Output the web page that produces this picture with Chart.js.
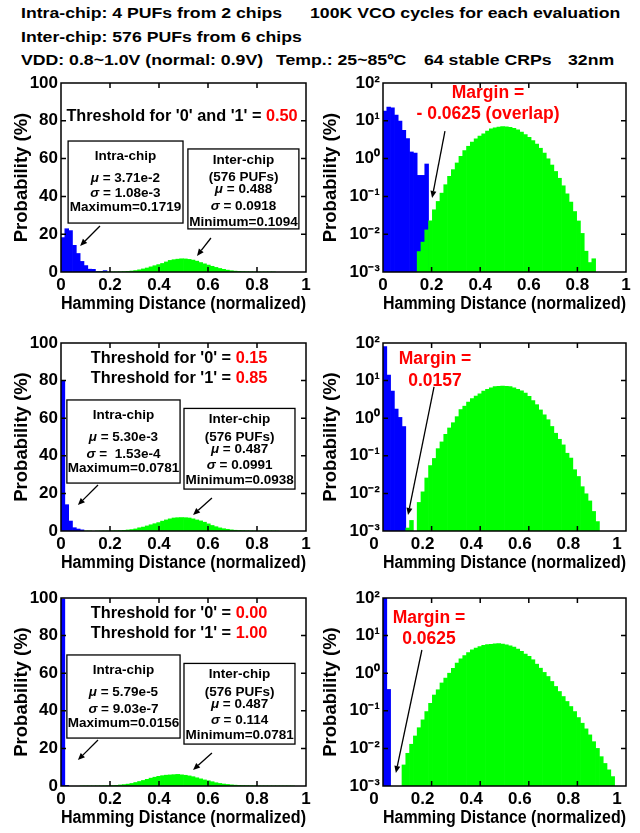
<!DOCTYPE html>
<html><head><meta charset="utf-8">
<script src="https://cdn.jsdelivr.net/npm/chart.js@4.4.0/dist/chart.umd.min.js"></script>
<style>
html,body{margin:0;padding:0;background:#fff;}
body{width:640px;height:833px;position:relative;overflow:hidden;font-family:"Liberation Sans",Arial,Helvetica,sans-serif;}
.h{position:absolute;font-weight:bold;font-size:15.5px;line-height:15.5px;white-space:nowrap;transform:scaleX(1.14);transform-origin:0 0;color:#000;}
canvas{position:absolute;}
</style></head><body>
<div class="h" style="left:21px;top:5px">Intra-chip: 4 PUFs from 2 chips</div>
<div class="h" style="left:310px;top:5px">100K VCO cycles for each evaluation</div>
<div class="h" style="left:21px;top:28.5px">Inter-chip: 576 PUFs from 6 chips</div>
<div class="h" style="left:21px;top:52px">VDD: 0.8~1.0V (normal: 0.9V)</div>
<div class="h" style="left:276px;top:52px">Temp.: 25~85ºC</div>
<div class="h" style="left:424px;top:52px">64 stable CRPs</div>
<div class="h" style="left:568px;top:52px">32nm</div>

<canvas id="c1" width="316" height="246" style="left:0px;top:69px"></canvas>
<canvas id="c2" width="320" height="246" style="left:320px;top:69px"></canvas>
<canvas id="c3" width="316" height="245" style="left:0px;top:329px"></canvas>
<canvas id="c4" width="320" height="245" style="left:320px;top:329px"></canvas>
<canvas id="c5" width="316" height="245" style="left:0px;top:584px"></canvas>
<canvas id="c6" width="320" height="245" style="left:320px;top:584px"></canvas>

<script>
// ---------------- data ----------------
const BINS = 64;                       // 64 CRPs -> HD resolution 1/64
const xTickValues = [0, 0.2, 0.4, 0.6, 0.8, 1];
const yTicksLinear = [0, 20, 40, 60, 80, 100];
const yTicksLog = [0.001, 0.01, 0.1, 1, 10, 100];

// Threshold 0.50 (probability in %, first bin index given by *Start)
const intra050Start = 0;
const intra050 = [18.2, 22.9, 21.9, 14.1, 9.8, 5.6, 3.4, 1.5, 1.4, 0.36, 0.36, 0.72];
const inter050Start = 9;
const inter050 = [0.00347, 0.00617, 0.0130, 0.0226, 0.0443, 0.0736, 0.122, 0.204, 0.340, 0.511,
  0.767, 1.15, 1.63, 2.12, 2.72, 3.33, 3.92, 4.52, 5.32, 6.14, 6.52, 6.79, 7.00, 6.92, 6.68,
  6.31, 5.75, 5.01, 4.32, 3.67, 3.02, 2.43, 1.88, 1.40, 0.989, 0.676, 0.457, 0.302, 0.191,
  0.117, 0.0708, 0.0398, 0.0224, 0.0105, 0.00355, 0.00178, 0.00224];

// Threshold 0.15 / 0.85
const intra015Start = 0;
const intra015 = [80, 14, 5.3, 1.75, 1.05, 0.6];
const inter015Start = 6;
const inter015 = [0.00120, 0.00191, null, 0.00575, 0.0110, 0.0257, 0.0550, 0.0851, 0.155, 0.234,
  0.372, 0.550, 0.759, 1.10, 1.70, 2.09, 2.69, 3.31, 3.89, 4.47, 5.25, 5.89, 6.46, 6.92, 7.08,
  7.16, 7.08, 6.92, 6.46, 5.89, 5.37, 4.68, 3.80, 2.95, 2.29, 1.66, 1.23, 0.912, 0.603, 0.398,
  0.275, 0.195, 0.117, 0.0871, 0.0427, 0.0282, 0.0151, 0.00977, 0.00631, 0.00331, 0.00178];

// Threshold 0.00 / 1.00
const intra000Start = 0;
const intra000 = [99.6, 0.37];
const inter000Start = 5;
const inter000 = [0.00363, 0.00741, 0.0129, 0.0214, 0.0355, 0.0575, 0.0955, 0.158, 0.263, 0.363,
  0.550, 0.741, 1.00, 1.35, 1.86, 2.40, 2.95, 3.55, 4.17, 4.68, 5.13, 5.50, 5.75, 5.89, 6.03,
  6.17, 5.94, 5.71, 5.37, 4.95, 4.37, 3.80, 3.24, 2.79, 2.28, 1.74, 1.36, 1.05, 0.818, 0.603,
  0.444, 0.326, 0.240, 0.177, 0.130, 0.0955, 0.0661, 0.0468, 0.0331, 0.0229, 0.0151, 0.0100,
  0.00603, 0.00398, 0.00269, 0.00178];

// ---------------- rendering ----------------
const FONT = '"Liberation Sans", Arial, Helvetica, sans-serif';
const RED = '#ff0000', BLUE = '#0000ff', GREEN = '#00ff00';
Chart.defaults.font.family = FONT;
Chart.defaults.color = '#000';

function bars(start, values) {
  const pts = [];
  values.forEach((v, i) => { if (v !== null) pts.push({x: (start + i + 0.5) / BINS, y: v}); });
  return pts;
}
const supMap = {'-': '\u207B', '0': '\u2070', '1': '\u00B9', '2': '\u00B2', '3': '\u00B3'};
function logLabel(v) {
  const e = Math.round(Math.log10(v));
  return '10' + String(e).split('').map(c => supMap[c]).join('');
}

function drawRich(ctx, segs, cx, cy, size) {
  let total = 0;
  const parts = segs.map(s => {
    const font = (s.i ? 'italic ' : '') + 'bold ' + size + 'px ' + FONT;
    ctx.font = font;
    const w = ctx.measureText(s.t).width;
    total += w;
    return {s, font, w};
  });
  let xx = cx - total / 2;
  ctx.textBaseline = 'middle';
  ctx.textAlign = 'left';
  parts.forEach(p => { ctx.font = p.font; ctx.fillStyle = p.s.c || '#000'; ctx.fillText(p.s.t, xx, cy); xx += p.w; });
}

function framePlugin(ann) {
  return {
    id: 'frame',
    afterDraw(chart) {
      const {ctx, chartArea: a, scales: {x, y}} = chart;
      ctx.save();
      ctx.strokeStyle = '#000';
      ctx.lineWidth = 1.5;
      const tl = 5;
      ctx.beginPath();
      x.ticks.forEach(t => {
        const px = x.getPixelForValue(t.value);
        if (px <= a.left + 1 || px >= a.right - 1) return;
        ctx.moveTo(px, a.bottom); ctx.lineTo(px, a.bottom - tl);
        ctx.moveTo(px, a.top); ctx.lineTo(px, a.top + tl);
      });
      y.ticks.forEach(t => {
        const py = y.getPixelForValue(t.value);
        if (py <= a.top + 1 || py >= a.bottom - 1) return;
        ctx.moveTo(a.left, py); ctx.lineTo(a.left + tl, py);
        ctx.moveTo(a.right, py); ctx.lineTo(a.right - tl, py);
      });
      ctx.stroke();
      ctx.strokeRect(a.left, a.top, a.right - a.left, a.bottom - a.top);

      ann.forEach(it => {
        if (it.k === 'text') {
          drawRich(ctx, it.segs, x.getPixelForValue(it.x), y.getPixelForValue(it.y), it.size);
        } else if (it.k === 'box') {
          const x0 = x.getPixelForValue(it.x0), x1 = x.getPixelForValue(it.x1);
          const y0 = y.getPixelForValue(it.y0), y1 = y.getPixelForValue(it.y1);
          ctx.lineWidth = 1.3; ctx.strokeStyle = '#000';
          ctx.strokeRect(x0, y0, x1 - x0, y1 - y0);
        } else if (it.k === 'arrow') {
          const x0 = x.getPixelForValue(it.x0), x1 = x.getPixelForValue(it.x1);
          const y0 = y.getPixelForValue(it.y0), y1 = y.getPixelForValue(it.y1);
          const ang = Math.atan2(y1 - y0, x1 - x0);
          const hl = 7, hw = 3;
          ctx.lineWidth = 1.3; ctx.strokeStyle = '#000'; ctx.fillStyle = '#000';
          ctx.beginPath();
          ctx.moveTo(x0, y0);
          ctx.lineTo(x1 - hl * Math.cos(ang), y1 - hl * Math.sin(ang));
          ctx.stroke();
          ctx.beginPath();
          ctx.moveTo(x1, y1);
          ctx.lineTo(x1 - hl * Math.cos(ang) + hw * Math.sin(ang), y1 - hl * Math.sin(ang) - hw * Math.cos(ang));
          ctx.lineTo(x1 - hl * Math.cos(ang) - hw * Math.sin(ang), y1 - hl * Math.sin(ang) + hw * Math.cos(ang));
          ctx.closePath();
          ctx.fill();
        }
      });
      ctx.restore();
    }
  };
}

function makeChart(id, o) {
  const yIsLog = o.log;
  new Chart(document.getElementById(id), {
    type: 'bar',
    data: {
      datasets: [
        {label: 'Inter-chip', data: bars(o.interStart, o.inter), backgroundColor: GREEN, borderWidth: 0,
         barPercentage: 1, categoryPercentage: 1, grouped: false},
        {label: 'Intra-chip', data: bars(o.intraStart, o.intra), backgroundColor: BLUE, borderWidth: 0,
         barPercentage: 1, categoryPercentage: 1, grouped: false}
      ]
    },
    options: {
      responsive: false, animation: false, devicePixelRatio: 1,
      layout: {padding: {top: 14, right: o.padRight, left: 0, bottom: 0}},
      plugins: {legend: {display: false}, tooltip: {enabled: false}},
      scales: {
        x: {
          type: 'linear', min: 0, max: 1, offset: false,
          grid: {display: false, drawTicks: false}, border: {display: false},
          ticks: {font: {size: 17, weight: 'bold'}, color: '#000', padding: 3, autoSkip: false,
                  maxRotation: 0, labelOffset: o.labelOffset || 0,
                  callback: v => v === 0 ? '0' : (v === 1 ? '1' : v.toFixed(1))},
          afterBuildTicks: s => { s.ticks = xTickValues.map(v => ({value: v})); },
          afterFit: s => { s.height = 43; },
          title: {display: true, text: 'Hamming Distance (normalized)', color: '#000',
                  font: {size: 17.5, weight: 'bold'}, padding: {top: 0, bottom: 0}}
        },
        y: yIsLog ? {
          type: 'logarithmic', min: 0.001, max: 100,
          grid: {display: false, drawTicks: false}, border: {display: false},
          ticks: {font: {size: 17, weight: 'bold'}, color: '#000', padding: 3, autoSkip: false,
                  callback: v => logLabel(v)},
          afterBuildTicks: s => { s.ticks = yTicksLog.map(v => ({value: v})); },
          afterFit: s => { s.width = o.yWidth; },
          title: {display: true, text: 'Probability (%)', color: '#000',
                  font: {size: 18.5, weight: 'bold'}, padding: {top: o.titlePad, bottom: 0}}
        } : {
          type: 'linear', min: 0, max: 100,
          grid: {display: false, drawTicks: false}, border: {display: false},
          ticks: {font: {size: 17, weight: 'bold'}, color: '#000', padding: 3, autoSkip: false},
          afterBuildTicks: s => { s.ticks = yTicksLinear.map(v => ({value: v})); },
          afterFit: s => { s.width = o.yWidth; },
          title: {display: true, text: 'Probability (%)', color: '#000',
                  font: {size: 18.5, weight: 'bold'}, padding: {top: o.titlePad, bottom: 0}}
        }
      }
    },
    plugins: [framePlugin(o.ann)]
  });
}

const T = (t, c) => ({t, c});
const G = (t) => ({t, i: true});

function statsAnn(xc, box, lines) {
  const a = [{k: 'box', x0: box[0], x1: box[1], y0: box[2], y1: box[3]}];
  lines.forEach(l => a.push({k: 'text', x: xc, y: l[0], size: 13.5, segs: l[1]}));
  return a;
}

// Row 1
makeChart('c1', {
  log: false, yWidth: 61, padRight: 10, titlePad: 11,
  intraStart: intra050Start, intra: intra050, interStart: inter050Start, inter: inter050,
  ann: [
    {k: 'text', x: 0.494, y: 82.5, size: 16.3, segs: [T("Threshold for '0' and '1' = "), T('0.50', RED)]},
    ...statsAnn(0.263, [0.029, 0.498, 69.3, 25.9], [
      [61.4, [T('Intra-chip')]], [49.7, [G('\u03BC'), T(' = 3.71e-2')]],
      [41.8, [G('\u03C3'), T(' = 1.08e-3')]], [34.4, [T('Maximum=0.1719')]]]),
    ...statsAnn(0.745, [0.518, 0.971, 65.1, 22.8], [
      [59.3, [T('Inter-chip')]], [50.3, [T('(576 PUFs)')]], [43.9, [G('\u03BC'), T(' = 0.488')]],
      [34.9, [G('\u03C3'), T(' = 0.0918')]], [26.5, [T('Minimum=0.1094')]]]),
    {k: 'arrow', x0: 0.159, y0: 24.3, x1: 0.078, y1: 13.8},
    {k: 'arrow', x0: 0.612, y0: 18.0, x1: 0.555, y1: 8.5}
  ]
});
makeChart('c2', {
  log: true, yWidth: 63, padRight: 14, titlePad: 0,
  intraStart: intra050Start, intra: intra050, interStart: inter050Start, inter: inter050,
  ann: [
    {k: 'text', x: 0.432, y: 54.3, size: 17.5, segs: [T('Margin =', RED)]},
    {k: 'text', x: 0.432, y: 15.1, size: 17.5, segs: [T('- 0.0625 (overlap)', RED)]},
    {k: 'arrow', x0: 0.255, y0: 5.37, x1: 0.202, y1: 0.091}
  ]
});

// Row 2
const statsRow2 = (intraL, interL) => [
  ...statsAnn(0.255, [0.024, 0.486, 69.7, 25.5], intraL),
  ...statsAnn(0.729, [0.502, 0.955, 65.2, 22.3], interL),
  {k: 'arrow', x0: 0.151, y0: 24.5, x1: 0.069, y1: 13.8},
  {k: 'arrow', x0: 0.616, y0: 17.6, x1: 0.539, y1: 8.5}
];
makeChart('c3', {
  log: false, yWidth: 61, padRight: 10, titlePad: 11,
  intraStart: intra015Start, intra: intra015, interStart: inter015Start, inter: inter015,
  ann: [
    {k: 'text', x: 0.482, y: 91.5, size: 16.3, segs: [T("Threshold for '0' = "), T('0.15', RED)]},
    {k: 'text', x: 0.482, y: 80.9, size: 16.3, segs: [T("Threshold for '1' = "), T('0.85', RED)]},
    ...statsRow2([
      [61.7, [T('Intra-chip')]], [50.0, [G('\u03BC'), T(' = 5.30e-3')]],
      [41.0, [G('\u03C3'), T(' =  1.53e-4')]], [33.5, [T('Maximum=0.0781')]]], [
      [59.6, [T('Inter-chip')]], [50.0, [T('(576 PUFs)')]], [43.6, [G('\u03BC'), T(' = 0.487')]],
      [35.1, [G('\u03C3'), T(' = 0.0991')]], [27.1, [T('Minimum=0.0938')]]])
  ]
});
makeChart('c4', {
  log: true, yWidth: 63, padRight: 14, titlePad: 0, labelOffset: -9,
  intraStart: intra015Start, intra: intra015, interStart: inter015Start, inter: inter015,
  ann: [
    {k: 'text', x: 0.214, y: 37.5, size: 17.5, segs: [T('Margin =', RED)]},
    {k: 'text', x: 0.214, y: 9.8, size: 17.5, segs: [T('0.0157', RED)]},
    {k: 'arrow', x0: 0.210, y0: 6.76, x1: 0.103, y1: 0.00267}
  ]
});

// Row 3
makeChart('c5', {
  log: false, yWidth: 61, padRight: 10, titlePad: 11,
  intraStart: intra000Start, intra: intra000, interStart: inter000Start, inter: inter000,
  ann: [
    {k: 'text', x: 0.482, y: 91.5, size: 16.3, segs: [T("Threshold for '0' = "), T('0.00', RED)]},
    {k: 'text', x: 0.482, y: 80.9, size: 16.3, segs: [T("Threshold for '1' = "), T('1.00', RED)]},
    ...statsRow2([
      [61.7, [T('Intra-chip')]], [50.0, [G('\u03BC'), T(' = 5.79e-5')]],
      [41.0, [G('\u03C3'), T(' = 9.03e-7')]], [33.5, [T('Maximum=0.0156')]]], [
      [59.6, [T('Inter-chip')]], [50.0, [T('(576 PUFs)')]], [43.6, [G('\u03BC'), T(' = 0.487')]],
      [35.1, [G('\u03C3'), T(' = 0.114')]], [27.1, [T('Minimum=0.0781')]]])
  ]
});
makeChart('c6', {
  log: true, yWidth: 63, padRight: 14, titlePad: 0, labelOffset: -9,
  intraStart: intra000Start, intra: intra000, interStart: inter000Start, inter: inter000,
  ann: [
    {k: 'text', x: 0.189, y: 29.4, size: 17.5, segs: [T('Margin =', RED)]},
    {k: 'text', x: 0.189, y: 8.11, size: 17.5, segs: [T('0.0625', RED)]},
    {k: 'arrow', x0: 0.160, y0: 4.14, x1: 0.053, y1: 0.00222}
  ]
});
</script>
</body></html>
